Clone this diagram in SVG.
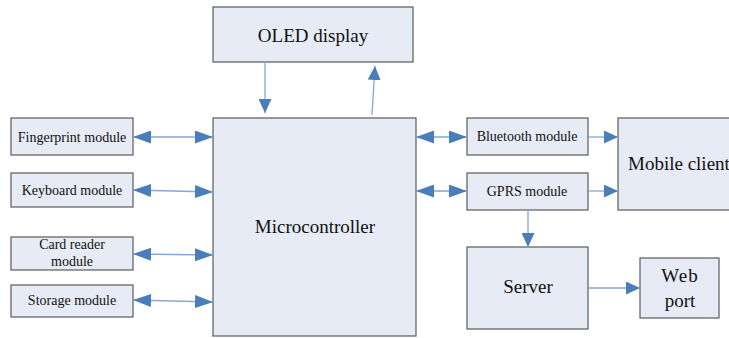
<svg xmlns="http://www.w3.org/2000/svg" width="729" height="338" viewBox="0 0 729 338">
<style>
.box{fill:#e6ebf5;stroke:#5a5a5a;stroke-width:1.2}
.t{fill:#111;text-anchor:middle}
.s{font-size:14px}
.l{font-size:19px}
.c line{stroke:#86a6d6;stroke-width:1.3;fill:none}
.d{marker-start:url(#ahL);marker-end:url(#ahL)}
.a{marker-end:url(#ah)}
</style>
<defs>
<marker id="ah" markerUnits="userSpaceOnUse" viewBox="0 0 14 13" refX="14" refY="6.5" markerWidth="14" markerHeight="13" orient="auto"><path d="M0,0 L14,6.5 L0,13 z" fill="#4a7ebb"/></marker>
<marker id="ahL" markerUnits="userSpaceOnUse" viewBox="0 0 18 13" refX="18" refY="6.5" markerWidth="18" markerHeight="13" orient="auto-start-reverse"><path d="M0,0 L18,6.5 L0,13 z" fill="#4a7ebb"/></marker>
</defs>
<g font-family="Liberation Serif, Times New Roman, DejaVu Serif, serif">
<g id="oled"><rect class="box" x="213" y="7" width="200" height="55"/><text class="t l" x="313" y="42">OLED display</text></g>
<g id="micro"><rect class="box" x="213" y="118" width="203" height="218"/><text class="t l" x="315" y="233">Microcontroller</text></g>
<g id="fingerprint"><rect class="box" x="11" y="118" width="122" height="37"/><text class="t s" x="72" y="142">Fingerprint module</text></g>
<g id="keyboard"><rect class="box" x="11" y="173" width="122" height="34"/><text class="t s" x="72" y="195">Keyboard module</text></g>
<g id="cardreader"><rect class="box" x="11" y="237" width="122" height="33"/><text class="t s" x="72" y="249">Card reader</text><text class="t s" x="72" y="266">module</text></g>
<g id="storage"><rect class="box" x="11" y="285" width="122" height="32"/><text class="t s" x="72" y="305">Storage module</text></g>
<g id="bluetooth"><rect class="box" x="467" y="118" width="121" height="37"/><text class="t s" x="527" y="141">Bluetooth module</text></g>
<g id="gprs"><rect class="box" x="467" y="173" width="121" height="37"/><text class="t s" x="527" y="196">GPRS module</text></g>
<g id="mobile"><rect class="box" x="618" y="118" width="130" height="92"/><text class="t l" x="628" y="170" style="text-anchor:start">Mobile client</text></g>
<g id="server"><rect class="box" x="467" y="247" width="121" height="82"/><text class="t l" x="528" y="293">Server</text></g>
<g id="webport"><rect class="box" x="640" y="258" width="79" height="60"/><text class="t l" x="680" y="282" letter-spacing="1">Web</text><text class="t l" x="680" y="307">port</text></g>
</g>
<g id="connectors" class="c">
<line class="a" x1="265" y1="62" x2="265" y2="113"/>
<line class="a" x1="372" y1="115" x2="375" y2="66"/>
<line class="d" x1="133" y1="137" x2="213" y2="137"/>
<line class="d" x1="133" y1="190" x2="213" y2="192"/>
<line class="d" x1="133" y1="254" x2="213" y2="255"/>
<line class="d" x1="133" y1="300" x2="213" y2="302"/>
<line class="d" x1="416" y1="137" x2="467" y2="137"/>
<line class="d" x1="416" y1="191" x2="467" y2="191"/>
<line class="a" x1="588" y1="137" x2="618" y2="137"/>
<line class="a" x1="588" y1="191" x2="618" y2="191"/>
<line class="a" x1="528" y1="210" x2="528" y2="247"/>
<line class="a" x1="588" y1="288" x2="640" y2="288"/>
</g>
</svg>
